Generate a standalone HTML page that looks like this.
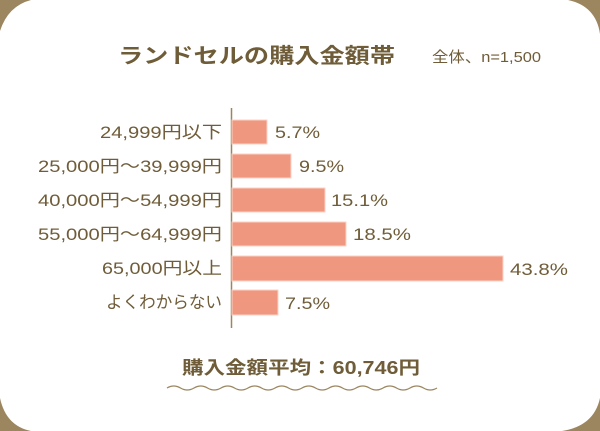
<!DOCTYPE html>
<html><head><meta charset="utf-8"><style>
body{margin:0;width:600px;height:431px;background:#fff;overflow:hidden}
svg{display:block}
text{font-family:"Liberation Sans","Noto Sans CJK JP",sans-serif;fill:#6f5c38}
</style></head><body>
<svg width="600" height="431" viewBox="0 0 600 431">
<g fill="#9b8660">
<path d="M0 0 L31 0 Q8 6 0 31 Z"/>
<path d="M568 0 L600 0 L600 34 Q596 6 568 0 Z"/>
<path d="M0 398 Q6 426 31 431 L0 431 Z"/>
<path d="M600 398 Q594 426 562 431 L600 431 Z"/>
</g>
<text x="118" y="63" font-size="21" font-weight="bold" textLength="277" lengthAdjust="spacingAndGlyphs">ランドセルの購入金額帯</text>
<text x="432" y="62" font-size="15" textLength="109" lengthAdjust="spacingAndGlyphs">全体、n=1,500</text>
<line x1="231.5" y1="108" x2="231.5" y2="328" stroke="#9b8660" stroke-width="1.5"/>
<g fill="#f0977f" stroke="#fbd3c6" stroke-width="1">
<rect x="232" y="120" width="35" height="24"/>
<rect x="232" y="154" width="59" height="24"/>
<rect x="232" y="188" width="93" height="24"/>
<rect x="232" y="222" width="114" height="24"/>
<rect x="232" y="256" width="271" height="25"/>
<rect x="232" y="290" width="46" height="25"/>
</g>
<g font-size="17" lengthAdjust="spacingAndGlyphs">
<text x="100" y="138" textLength="122" lengthAdjust="spacingAndGlyphs">24,999円以下</text>
<text x="38" y="172" textLength="184" lengthAdjust="spacingAndGlyphs">25,000円～39,999円</text>
<text x="38" y="206" textLength="184" lengthAdjust="spacingAndGlyphs">40,000円～54,999円</text>
<text x="38" y="240" textLength="184" lengthAdjust="spacingAndGlyphs">55,000円～64,999円</text>
<text x="102" y="274" textLength="120" lengthAdjust="spacingAndGlyphs">65,000円以上</text>
<text x="106" y="308" textLength="116" lengthAdjust="spacingAndGlyphs">よくわからない</text>
</g>
<g font-size="17">
<text x="275" y="138" textLength="45" lengthAdjust="spacingAndGlyphs">5.7%</text>
<text x="299" y="172" textLength="45" lengthAdjust="spacingAndGlyphs">9.5%</text>
<text x="331" y="206" textLength="57" lengthAdjust="spacingAndGlyphs">15.1%</text>
<text x="353" y="240" textLength="58" lengthAdjust="spacingAndGlyphs">18.5%</text>
<text x="510" y="275" textLength="58" lengthAdjust="spacingAndGlyphs">43.8%</text>
<text x="285" y="309" textLength="45" lengthAdjust="spacingAndGlyphs">7.5%</text>
</g>
<text x="182" y="374" font-size="18" font-weight="bold" textLength="238" lengthAdjust="spacingAndGlyphs">購入金額平均：60,746円</text>
<path d="M167 388 q6.75 -4 13.5 0 t13.5 0 t13.5 0 t13.5 0 t13.5 0 t13.5 0 t13.5 0 t13.5 0 t13.5 0 t13.5 0 t13.5 0 t13.5 0 t13.5 0 t13.5 0 t13.5 0 t13.5 0 t13.5 0 t13.5 0 t13.5 0 t13.5 0" fill="none" stroke="#9b8660" stroke-width="1.3"/>
</svg>
</body></html>
